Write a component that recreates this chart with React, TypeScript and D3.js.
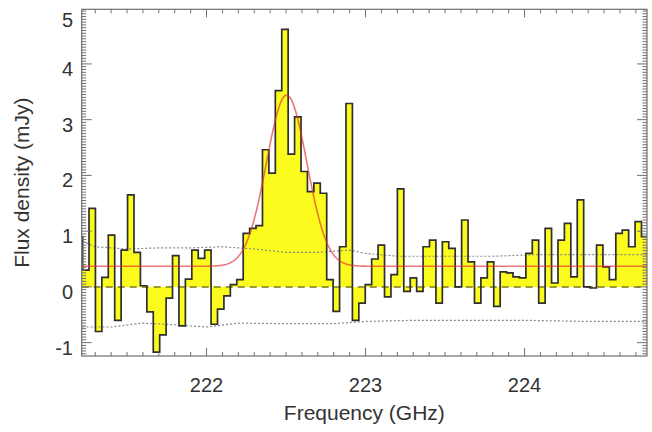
import React from "react";
import * as d3 from "d3";

// channel centres (GHz) and flux density (mJy)
const freqGHz = [
  221.2004, 221.2408, 221.2812, 221.3216, 221.362, 221.4024, 221.4428, 221.4832, 221.5236, 221.564,
  221.6044, 221.6448, 221.6852, 221.7256, 221.766, 221.8064, 221.8468, 221.8872, 221.9276, 221.968,
  222.0084, 222.0488, 222.0892, 222.1296, 222.17, 222.2104, 222.2508, 222.2912, 222.3316, 222.372,
  222.4124, 222.4528, 222.4932, 222.5336, 222.574, 222.6144, 222.6548, 222.6952, 222.7356, 222.776,
  222.8164, 222.8568, 222.8972, 222.9376, 222.978, 223.0184, 223.0588, 223.0992, 223.1396, 223.18,
  223.2204, 223.2608, 223.3012, 223.3416, 223.382, 223.4224, 223.4628, 223.5032, 223.5436, 223.584,
  223.6244, 223.6648, 223.7052, 223.7456, 223.786, 223.8264, 223.8668, 223.9072, 223.9476, 223.988,
  224.0284, 224.0688, 224.1092, 224.1496, 224.19, 224.2304, 224.2708, 224.3112, 224.3516, 224.392,
  224.4324, 224.4728, 224.5132, 224.5536, 224.594, 224.6344, 224.6748, 224.7152, 224.7556, 224.796,
];

const fluxMJy = [
  0.9, 0.3, 1.41, -0.8, 0.17, 0.93, -0.6, 0.66, 1.65, 0.62,
  0.02, -0.45, -1.17, -0.86, -0.2, 0.56, -0.7, 0.14, 0.66, 0.51,
  0.66, -0.67, -0.4, -0.16, 0.04, 0.13, 0.96, 1.05, 1.1, 2.46,
  2.04, 3.52, 4.62, 2.38, 3.05, 2.07, 1.71, 1.86, 1.68, 0.13,
  -0.44, 0.72, 3.29, -0.6, -0.29, 0.04, 0.5, 0.75, -0.18, 0.22,
  1.76, -0.08, 0.16, -0.08, 0.72, 0.84, -0.29, 0.81, 0.69, 0.0,
  1.2, 0.45, -0.29, 0.16, 0.45, -0.35, 0.27, 0.25, 0.18, 0.16,
  0.6, 0.84, -0.29, 1.05, 0.07, 0.84, 1.14, 0.18, 1.56, 0.0,
  -0.02, 0.75, 0.36, 0.13, 0.96, 1.02, 0.72, 1.17, 0.9, -0.08,
];

// +/- rms noise envelope (dotted)
const rmsUpperFreq = [221.22, 221.3, 221.5, 221.7, 221.9, 222.1, 222.3, 222.5, 222.7, 222.9, 223.0, 223.2, 223.5, 223.8, 224.1, 224.4, 224.77];
const rmsUpper = [0.82, 0.72, 0.68, 0.7, 0.7, 0.72, 0.68, 0.62, 0.62, 0.66, 0.6, 0.55, 0.55, 0.55, 0.58, 0.58, 0.58];
const rmsLowerFreq = [221.22, 221.4, 221.6, 221.8, 222.0, 222.2, 222.5, 222.8, 223.0, 223.3, 223.6, 224.0, 224.4, 224.77];
const rmsLower = [-0.72, -0.72, -0.65, -0.68, -0.72, -0.65, -0.66, -0.66, -0.62, -0.6, -0.6, -0.6, -0.62, -0.62];

// gaussian + continuum fit
const fitContinuum = 0.37;
const fitPeak = 3.07;
const fitCenter = 222.504;
const fitSigma = 0.127;

const xTicks = [222, 223, 224];
const yTicks = [-1, 0, 1, 2, 3, 4, 5];

export default function App() {
  const width = 652;
  const height = 432;
  const left = 81.7, right = 647, top = 9.3, bottom = 356;
  const font = "'Liberation Sans', Arial, Helvetica, sans-serif";

  const x = d3.scaleLinear().domain([221.215, 224.77]).range([left, right]);
  const y = d3.scaleLinear().domain([-1.24, 4.98]).range([bottom, top]);

  const pts: [number, number][] = freqGHz.map((f, i) => [f, fluxMJy[i]]);

  const area = d3
    .area<[number, number]>()
    .curve(d3.curveStep)
    .x((d) => x(d[0]))
    .y0(y(0))
    .y1((d) => y(d[1]));
  const outline = d3
    .line<[number, number]>()
    .curve(d3.curveStep)
    .x((d) => x(d[0]))
    .y((d) => y(d[1]));
  const plain = d3
    .line<[number, number]>()
    .x((d) => x(d[0]))
    .y((d) => y(d[1]));

  const fitX = d3.range(221.215, 224.77, 0.005);
  const fitPts: [number, number][] = fitX.map((f) => [
    f,
    fitContinuum + fitPeak * Math.exp(-((f - fitCenter) ** 2) / (2 * fitSigma * fitSigma)),
  ]);

  const upper: [number, number][] = rmsUpperFreq.map((f, i) => [f, rmsUpper[i]]);
  const lower: [number, number][] = rmsLowerFreq.map((f, i) => [f, rmsLower[i]]);

  const xMinor = d3.range(221.3, 224.77, 0.1).map((v) => Math.round(v * 10) / 10);
  const yMinor = d3.range(-1.2, 4.98, 0.05).map((v) => Math.round(v * 100) / 100);

  const axisColor = "#6f6f6f";

  return (
    <svg width={width} height={height} style={{ position: "absolute", left: 0, top: 0, background: "#fff" }}>
      <defs>
        <clipPath id="plotClip">
          <rect x={left} y={top} width={right - left} height={bottom - top} />
        </clipPath>
      </defs>

      <g clipPath="url(#plotClip)">
        <path d={area(pts) ?? ""} fill="#fbfb1e" />
        <path d={plain(upper) ?? ""} fill="none" stroke="#8a8a8a" strokeWidth={1.2} strokeDasharray="2,2" />
        <path d={plain(lower) ?? ""} fill="none" stroke="#8a8a8a" strokeWidth={1.2} strokeDasharray="2,2" />
        <line x1={left} x2={right} y1={y(0)} y2={y(0)} stroke="#9a9a30" strokeWidth={2} strokeDasharray="7,5" />
        <path d={outline(pts) ?? ""} fill="none" stroke="#2e2e2e" strokeWidth={1.7} />
        <path d={plain(fitPts) ?? ""} fill="none" stroke="#e03030" strokeOpacity={0.65} strokeWidth={1.6} />
      </g>

      {/* frame */}
      <rect x={left} y={top} width={right - left} height={bottom - top} fill="none" stroke={axisColor} strokeWidth={1.2} />

      {/* x ticks bottom & top */}
      {xMinor.map((v) => {
        const major = xTicks.includes(v);
        const len = major ? 8 : 4;
        return (
          <g key={"xt" + v} stroke={axisColor} strokeWidth={1}>
            <line x1={x(v)} x2={x(v)} y1={bottom} y2={bottom - len} />
            <line x1={x(v)} x2={x(v)} y1={top} y2={top + len} />
          </g>
        );
      })}

      {/* y ticks left & right */}
      {yMinor.map((v) => {
        const major = yTicks.includes(v);
        const len = major ? 10 : 4.5;
        return (
          <g key={"yt" + v} stroke={axisColor} strokeWidth={1}>
            <line x1={left} x2={left + len} y1={y(v)} y2={y(v)} />
            <line x1={right} x2={right - len} y1={y(v)} y2={y(v)} />
          </g>
        );
      })}

      {/* tick labels */}
      {xTicks.map((t) => (
        <text key={"xl" + t} x={x(t)} y={392} textAnchor="middle" fontFamily={font} fontSize={20} fill="#333">
          {t}
        </text>
      ))}
      {yTicks.map((t) => (
        <text
          key={"yl" + t}
          x={73}
          y={Math.max(y(t) + 12, top + 18)}
          textAnchor="end"
          fontFamily={font}
          fontSize={20}
          fill="#333"
        >
          {t}
        </text>
      ))}

      {/* axis titles */}
      <text x={(left + right) / 2} y={420} textAnchor="middle" fontFamily={font} fontSize={21} fill="#333">
        Frequency (GHz)
      </text>
      <text
        transform={`translate(29,${(top + bottom) / 2}) rotate(-90)`}
        textAnchor="middle"
        fontFamily={font}
        fontSize={21}
        fill="#333"
      >
        Flux density (mJy)
      </text>
    </svg>
  );
}
